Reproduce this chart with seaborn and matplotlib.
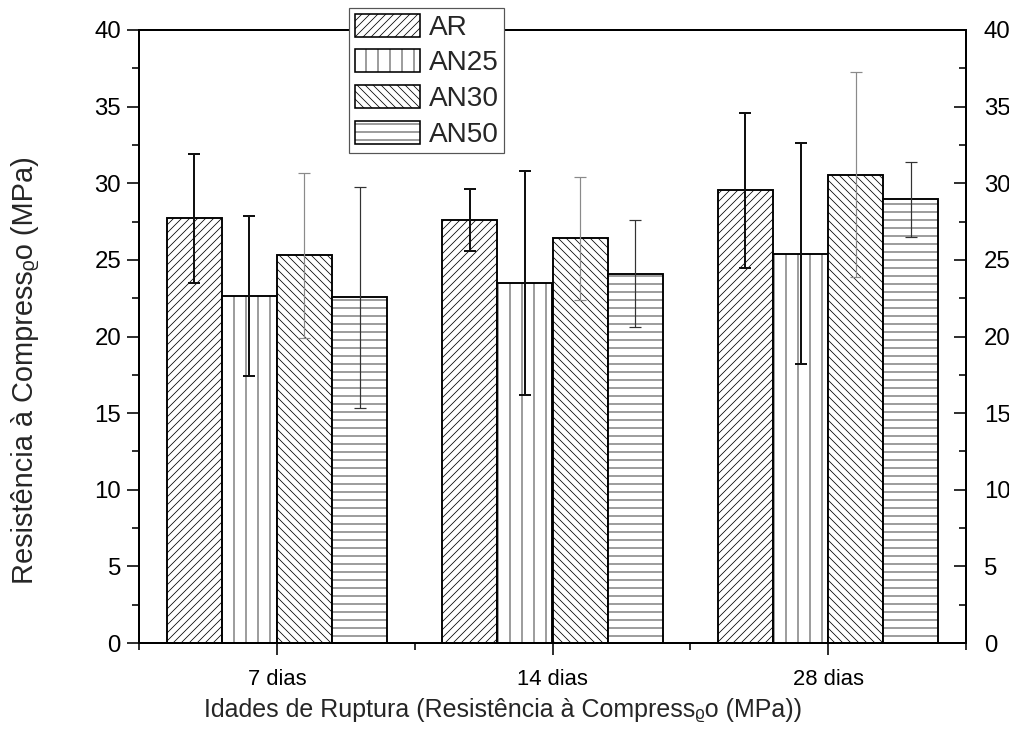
import numpy as np
import pandas as pd
import matplotlib
matplotlib.use("Agg")
import matplotlib.pyplot as plt
from matplotlib.patches import Patch
from matplotlib.ticker import MultipleLocator, FixedLocator
import seaborn as sns

# Data: compressive strength (MPa) by curing age and mix
idades = ["7 dias", "14 dias", "28 dias"]
series = ["AR", "AN25", "AN30", "AN50"]
media_AR = [27.7, 27.6, 29.55]
media_AN25 = [22.65, 23.5, 25.4]
media_AN30 = [25.3, 26.4, 30.55]
media_AN50 = [22.55, 24.1, 28.95]
desvio_AR = [4.2, 2.0, 5.05]
desvio_AN25 = [5.2, 7.3, 7.2]
desvio_AN30 = [5.4, 4.0, 6.7]
desvio_AN50 = [7.2, 3.5, 2.45]

medias = {"AR": media_AR, "AN25": media_AN25, "AN30": media_AN30, "AN50": media_AN50}
desvios = {"AR": desvio_AR, "AN25": desvio_AN25, "AN30": desvio_AN30, "AN50": desvio_AN50}
hachuras = {"AR": "//////", "AN25": "||", "AN30": "\\\\\\\\\\\\", "AN50": "---"}
cor_erro = {"AR": "#111111", "AN25": "#111111", "AN30": "#8a8a8a", "AN50": "#333333"}
lw_erro = {"AR": 1.0, "AN25": 1.0, "AN30": 0.6, "AN50": 0.6}

df = pd.DataFrame(
    [(idade, s, medias[s][i]) for s in series for i, idade in enumerate(idades)],
    columns=["idade", "serie", "valor"],
)

sns.set_theme(style="white")
plt.rcParams["font.family"] = ["Liberation Sans", "DejaVu Sans"]
plt.rcParams["hatch.linewidth"] = 0.38

DPI = 144
fig = plt.figure(figsize=(1009 / DPI, 737 / DPI), dpi=DPI)
ax = fig.add_axes([139 / 1009, 94 / 737, (966 - 139) / 1009, (643 - 30) / 737])

sns.barplot(
    data=df, x="idade", y="valor", hue="serie", order=idades, hue_order=series,
    palette=["white"] * 4, edgecolor="black", linewidth=0.95, width=0.8,
    errorbar=None, legend=False, ax=ax,
)

for s, cont in zip(series, ax.containers):
    xs = []
    for bar in cont:
        bar.set_hatch(hachuras[s])
        bar.set_edgecolor("black")
        xs.append(bar.get_x() + bar.get_width() / 2)
    ax.errorbar(xs, medias[s], yerr=desvios[s], fmt="none", ecolor=cor_erro[s],
                elinewidth=lw_erro[s], capsize=3, capthick=lw_erro[s], zorder=5)

ax.set_xlim(-0.5, 2.5)
ax.set_ylim(0, 40)

for sp in ax.spines.values():
    sp.set_visible(True)
    sp.set_color("black")
    sp.set_linewidth(1.0)

ax.yaxis.set_major_locator(MultipleLocator(5))
ax.yaxis.set_minor_locator(MultipleLocator(2.5))
ax.xaxis.set_minor_locator(FixedLocator([-0.5, 0.5, 1.5, 2.5]))

ax.tick_params(axis="y", which="both", left=True, right=True, labelleft=True,
               labelright=True, direction="out", colors="black", labelsize=12, width=0.8)
ax.tick_params(axis="y", which="major", length=6, pad=3)
ax.tick_params(axis="y", which="minor", length=3.5)
ax.tick_params(axis="x", which="both", bottom=True, top=False, direction="out",
               colors="black", labelsize=11, width=0.8)
ax.tick_params(axis="x", which="major", length=6, pad=7)
ax.tick_params(axis="x", which="minor", length=3.5)
# inward ticks on the right-hand axis
for t in ax.yaxis.get_major_ticks() + ax.yaxis.get_minor_ticks():
    t.tick2line.set_marker(matplotlib.lines.TICKLEFT)

ax.set_xlabel("Idades de Ruptura (Resistência à Compress\u1d68o (MPa))", fontsize=12.5)
ax.set_ylabel("Resistência à Compress\u1d68o (MPa)", fontsize=14.5)
ax.xaxis.set_label_coords(0.44, -0.09)
ax.yaxis.set_label_coords(-0.121, 0.445)

handles = [Patch(facecolor="white", edgecolor="black", hatch=hachuras[s], linewidth=0.8, label=s)
           for s in series]
leg = ax.legend(handles=handles, loc="upper left", bbox_to_anchor=(0.254, 1.036),
                fontsize=14, frameon=True, fancybox=False, edgecolor="#555555",
                framealpha=1, handlelength=2.35, handleheight=0.9, handletextpad=0.3,
                labelspacing=0.3, borderpad=0.2, borderaxespad=0)
leg.get_frame().set_linewidth(0.6)
leg.set_zorder(10)

fig.savefig("out.png", dpi=DPI)
